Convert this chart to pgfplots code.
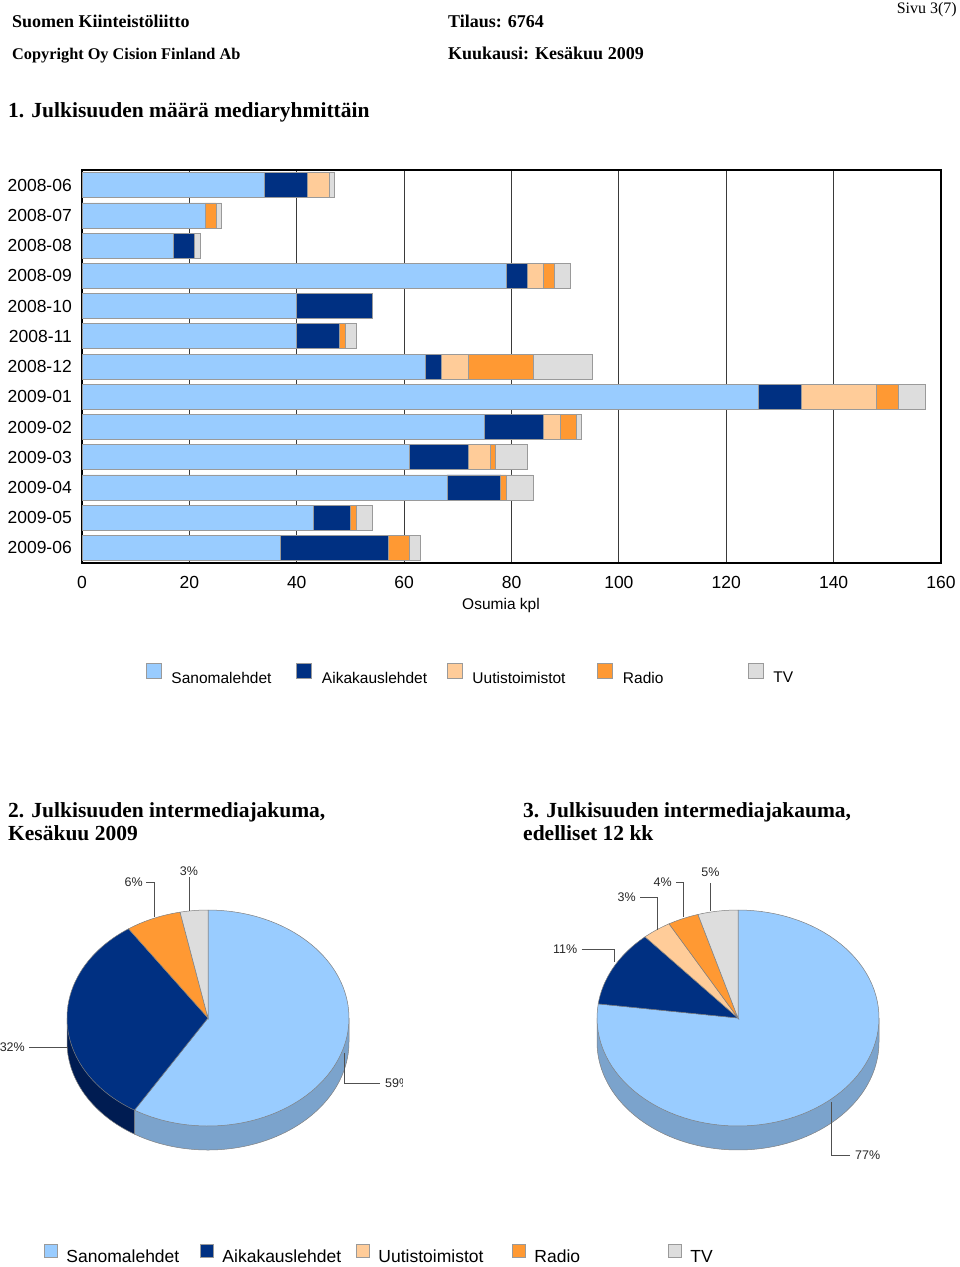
\documentclass[border=0pt]{standalone}
\usepackage{fontspec}
\setmainfont{Liberation Serif}
\setsansfont{Liberation Sans}
\usepackage{pgfplots}
\pgfplotsset{compat=1.18}
\usepackage{pgfplotstable}

\definecolor{cSan}{HTML}{99CCFF}
\definecolor{cAik}{HTML}{003082}
\definecolor{cUut}{HTML}{FFCC99}
\definecolor{cRad}{HTML}{FF9933}
\definecolor{cTV}{HTML}{DDDDDD}
\definecolor{sSan}{HTML}{7BA3CC}
\definecolor{sAik}{HTML}{001C52}
\definecolor{cGrid}{HTML}{3A3A3A}
\definecolor{cEdge}{HTML}{9A9A9A}
\definecolor{cLead}{HTML}{505050}

\newcommand{\fs}[1]{\fontsize{#1}{#1}\selectfont}
\newcommand{\legA}[1]{\makebox[125pt][l]{#1}}
\newcommand{\legB}[1]{\makebox[133.5pt][l]{#1}}

\pgfplotsset{
  sqA/.style={legend image code/.code={\draw[fill=#1,draw=cEdge,line width=0.5pt] (0pt,0pt) rectangle (15pt,15pt);}},
  sqB/.style={legend image code/.code={\draw[fill=#1,draw=cEdge,line width=0.5pt] (0pt,0pt) rectangle (13pt,13pt);}},
}

% top face of a slice: cx, cy, t1, t2, colour
\newcommand{\pietop}[5]{%
  \addplot[forget plot, fill=#5, draw=black!50, line width=0.5pt, domain=#3:#4, samples=90]
    ({#1+141*cos(x)},{-#2+108*sin(x)}) -- (axis cs:#1,-#2) -- cycle;}
% visible side of a slice, t1<t2 inside [-180,0]
\newcommand{\pieside}[5]{%
  \addplot[forget plot, fill=#5, draw=black!50, line width=0.5pt, domain=#3:#4, samples=90]
    ({#1+141*cos(x)},{-#2-24+108*sin(x)})
    -- (axis cs:{#1+141*cos(#4)},{-#2+108*sin(#4)})
    -- (axis cs:#1,-#2)
    -- (axis cs:{#1+141*cos(#3)},{-#2+108*sin(#3)}) -- cycle;}

% monthly counts: Sanomalehdet, Aikakauslehdet, Uutistoimistot, Radio, TV
\pgfplotstableread{
m san aik uut rad tv
0 34 8 4 0 1
1 23 0 0 2 1
2 17 4 0 0 1
3 79 4 3 2 3
4 40 14 0 0 0
5 40 8 0 1 2
6 64 3 5 12 11
7 126 8 14 4 5
8 75 11 3 3 1
9 61 11 4 1 6
10 68 10 0 1 5
11 43 7 0 1 3
12 37 20 0 4 2
}\bars

\begin{document}
\begin{tikzpicture}[txt/.style={inner sep=0pt, anchor=base west}, lab/.style={inner sep=0pt, font=\sffamily\fs{12.5}, text=black!85}]
\path[use as bounding box] (0pt,0pt) rectangle (960pt,-1267pt);

% pie 1 (2009-06): 37, 20, 0, 4, 2  (total 63)
\pgfmathsetmacro\pAa{90-360/63*37}
\pgfmathsetmacro\pAb{90-360/63*57}
\pgfmathsetmacro\pAc{90-360/63*61}
% pie 2 (12 months): 673, 100, 29, 31, 40 (total 873)
\pgfmathsetmacro\pBa{90-360/873*673}
\pgfmathsetmacro\pBb{90-360/873*773}
\pgfmathsetmacro\pBc{90-360/873*802}
\pgfmathsetmacro\pBd{90-360/873*833}

% ---------- header texts
\node[txt, font=\bfseries\fs{18}] at (12pt,-27pt) {Suomen Kiinteistöliitto};
\node[txt, font=\bfseries\fs{16.3}] at (12pt,-59pt) {Copyright Oy Cision Finland Ab};
\node[txt, font=\bfseries\fs{18}] at (448pt,-27pt) {Tilaus: 6764};
\node[txt, font=\bfseries\fs{18}] at (448pt,-59pt) {Kuukausi: Kesäkuu 2009};
\node[inner sep=0pt, anchor=base east, font=\fs{16}] at (957pt,-13.5pt) {Sivu 3(7)};
\node[txt, font=\bfseries\fs{21.5}] at (8pt,-117pt) {1. Julkisuuden määrä mediaryhmittäin};
\node[txt, font=\bfseries\fs{21.5}] at (8pt,-817pt) {2. Julkisuuden intermediajakuma,};
\node[txt, font=\bfseries\fs{21.5}] at (8pt,-840pt) {Kesäkuu 2009};
\node[txt, font=\bfseries\fs{21.5}] at (523pt,-817pt) {3. Julkisuuden intermediajakauma,};
\node[txt, font=\bfseries\fs{21.5}] at (523pt,-840pt) {edelliset 12 kk};

% ---------- bar chart
\begin{axis}[
  at={(82pt,-563pt)}, anchor=south west,
  scale only axis, width=859pt, height=393pt,
  xbar stacked, bar width=25pt,
  xmin=0, xmax=160, ymin=-0.5, ymax=12.5, y dir=reverse,
  xtick={0,20,...,160}, ytick={0,1,...,12},
  yticklabels={2008-06,2008-07,2008-08,2008-09,2008-10,2008-11,2008-12,2009-01,2009-02,2009-03,2009-04,2009-05,2009-06},
  xmajorgrids, major grid style={draw=cGrid, line width=1.2pt},
  axis line style={draw=black, line width=1.8pt},
  major tick length=0pt,
  /pgf/number format/assume math mode=true,
  tick label style={font=\sffamily\fs{17.5}, inner sep=0pt},
  xticklabel style={yshift=-13pt},
  yticklabel style={xshift=-10pt},
  legend columns=5,
  legend style={at={(0.0745,-0.282)}, anchor=west, draw=none, fill=none, inner sep=0pt, outer sep=0pt,
    font=\sffamily\fs{15.5}, nodes={inner sep=0pt},
    /tikz/every odd column/.append style={column sep=10pt}},
]
\addplot[fill=cSan, draw=cEdge, line width=0.6pt, sqA=cSan] table[x=san, y=m]{\bars};
\addlegendentry{\legA{Sanomalehdet}}
\addplot[fill=cAik, draw=cEdge, line width=0.6pt, sqA=cAik] table[x=aik, y=m]{\bars};
\addlegendentry{\legA{Aikakauslehdet}}
\addplot[fill=cUut, draw=cEdge, line width=0.6pt, sqA=cUut] table[x=uut, y=m]{\bars};
\addlegendentry{\legA{Uutistoimistot}}
\addplot[fill=cRad, draw=cEdge, line width=0.6pt, sqA=cRad] table[x=rad, y=m]{\bars};
\addlegendentry{\legA{Radio}}
\addplot[fill=cTV, draw=cEdge, line width=0.6pt, sqA=cTV] table[x=tv, y=m]{\bars};
\addlegendentry{TV}
\end{axis}
\node[inner sep=0pt, font=\sffamily\fs{15.5}] at (501pt,-605pt) {Osumia kpl};

% ---------- pies (overlay axis in page units)
\begin{axis}[
  at={(0pt,0pt)}, anchor=north west,
  scale only axis, width=960pt, height=1267pt,
  xmin=0, xmax=960, ymin=-1267, ymax=0,
  hide axis, clip=false,
  legend columns=5,
  legend style={at={(0.0458,0.0103)}, anchor=west, draw=none, fill=none, inner sep=0pt, outer sep=0pt,
    font=\sffamily\fs{17.5}, nodes={inner sep=0pt},
    /tikz/every odd column/.append style={column sep=9pt}},
]
\addlegendimage{sqB=cSan}\addlegendentry{\legB{Sanomalehdet}}
\addlegendimage{sqB=cAik}\addlegendentry{\legB{Aikakauslehdet}}
\addlegendimage{sqB=cUut}\addlegendentry{\legB{Uutistoimistot}}
\addlegendimage{sqB=cRad}\addlegendentry{\legB{Radio}}
\addlegendimage{sqB=cTV}\addlegendentry{TV}

% pie 1
\pieside{208}{1018}{\pAa}{0}{sSan}
\pieside{208}{1018}{-180}{\pAa}{sAik}
\pietop{208}{1018}{\pAa}{90}{cSan}
\pietop{208}{1018}{\pAb}{\pAa}{cAik}
\pietop{208}{1018}{\pAc}{\pAb}{cRad}
\pietop{208}{1018}{-270}{\pAc}{cTV}

% pie 2
\pieside{738}{1018}{-180}{0}{sSan}
\pietop{738}{1018}{\pBa}{90}{cSan}
\pietop{738}{1018}{\pBb}{\pBa}{cAik}
\pietop{738}{1018}{\pBc}{\pBb}{cUut}
\pietop{738}{1018}{\pBd}{\pBc}{cRad}
\pietop{738}{1018}{-270}{\pBd}{cTV}
\end{axis}

% ---------- pie labels and leader lines
\begin{scope}[cLead, line width=0.9pt]
\draw (146pt,-882pt) -| (154pt,-917pt);
\draw (189pt,-877pt) -- (189pt,-911pt);
\draw (29pt,-1047pt) -- (68pt,-1047pt);
\draw (380pt,-1083pt) -| (344pt,-1053pt);
\draw (710.7pt,-883pt) -- (710.7pt,-911pt);
\draw (676pt,-882pt) -| (683.3pt,-917pt);
\draw (640pt,-897pt) -| (657.3pt,-930pt);
\draw (581.7pt,-949pt) -| (614.3pt,-962pt);
\draw (850pt,-1155pt) -| (831.7pt,-1102pt);
\end{scope}
\node[lab, anchor=east] at (143pt,-882pt) {6\%};
\node[lab] at (189pt,-871pt) {3\%};
\node[lab, anchor=east] at (25pt,-1047pt) {32\%};
\begin{scope}
\clip (300pt,-1060pt) rectangle (402.5pt,-1100pt);
\node[lab, anchor=west] at (385pt,-1083pt) {59\%};
\end{scope}
\node[lab] at (710.5pt,-872pt) {5\%};
\node[lab, anchor=east] at (672pt,-882pt) {4\%};
\node[lab, anchor=east] at (636pt,-897pt) {3\%};
\node[lab, anchor=east] at (577.5pt,-949pt) {11\%};
\node[lab, anchor=west] at (855pt,-1155pt) {77\%};
\end{tikzpicture}
\end{document}
